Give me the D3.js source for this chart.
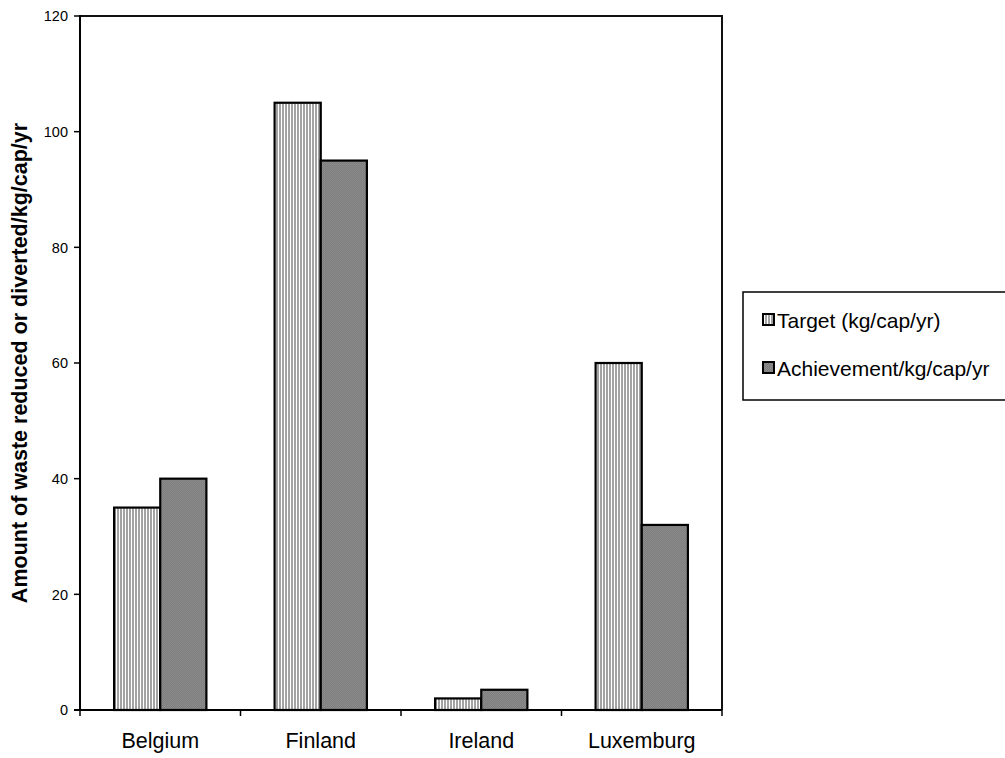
<!DOCTYPE html>
<html><head><meta charset="utf-8">
<script src="https://cdn.jsdelivr.net/npm/d3@7"></script>
<style>body{margin:0;background:#fff}svg{display:block;font-family:"Liberation Sans",Arial,sans-serif}</style>
</head><body><svg id="c" width="1005" height="758"></svg>
<script>
const categories = ["Belgium","Finland","Ireland","Luxemburg"];
const seriesNames = ["Target (kg/cap/yr)","Achievement/kg/cap/yr"];
const targetValues = [35,105,2,60];
const achievementValues = [40,95,3.5,32];
const yTicks = [0,20,40,60,80,100,120];
const yTitle = "Amount of waste reduced or diverted/kg/cap/yr";

const svg = d3.select("#c");
const L=80,R=722,T=16,B=710;
const defs = svg.append("defs");
const p1 = defs.append("pattern").attr("id","stripe").attr("patternUnits","userSpaceOnUse").attr("width",3).attr("height",4);
p1.append("rect").attr("width",3).attr("height",4).attr("fill","#fff");
p1.append("rect").attr("width",2).attr("height",4).attr("fill","#a3a3a3");
const p2 = defs.append("pattern").attr("id","dots").attr("patternUnits","userSpaceOnUse").attr("width",2).attr("height",2);
p2.append("rect").attr("width",2).attr("height",2).attr("fill","#7d7d7d");
p2.append("rect").attr("width",1).attr("height",1).attr("fill","#8e8e8e");
p2.append("rect").attr("x",1).attr("y",1).attr("width",1).attr("height",1).attr("fill","#8a8a8a");
const fills = ["url(#stripe)","url(#dots)"];

const x = d3.scaleBand().domain(categories).range([L,R]).paddingInner(0.425).paddingOuter(0.2125);
const xs = d3.scaleBand().domain([0,1]).range([0,x.bandwidth()]);
const y = d3.scaleLinear().domain([0,120]).range([B,T]);

// bars
const data = categories.map((c,i)=>({c, v:[targetValues[i],achievementValues[i]]}));
const g = svg.append("g");
data.forEach(d=>{
  d.v.forEach((v,s)=>{
    g.append("rect").attr("x",x(d.c)+xs(s)).attr("y",y(v)).attr("width",xs.bandwidth()).attr("height",y(0)-y(v))
     .attr("fill",fills[s]).attr("stroke","#000").attr("stroke-width",2.2);
  });
});

// frame
svg.append("path").attr("d",`M${L},${T}H${R}V${B}`).attr("fill","none").attr("stroke","#111").attr("stroke-width",2);
// y axis
svg.append("line").attr("x1",L).attr("x2",L).attr("y1",T-1).attr("y2",B+1).attr("stroke","#000").attr("stroke-width",2);
yTicks.forEach(t=>{
  svg.append("line").attr("x1",L-6).attr("x2",L).attr("y1",y(t)).attr("y2",y(t)).attr("stroke","#000").attr("stroke-width",1.5);
  svg.append("text").attr("x",L-12).attr("y",y(t)).attr("dy","0.36em").attr("text-anchor","end").attr("font-size",14.5).text(t);
});
// x axis
svg.append("line").attr("x1",L-6).attr("x2",R).attr("y1",B).attr("y2",B).attr("stroke","#000").attr("stroke-width",2);
d3.range(categories.length+1).forEach(i=>{
  const xx = L + i*(R-L)/categories.length;
  svg.append("line").attr("x1",xx).attr("x2",xx).attr("y1",B).attr("y2",B+6).attr("stroke","#000").attr("stroke-width",1.5);
});
categories.forEach(c=>{
  svg.append("text").attr("x",x(c)+x.bandwidth()/2).attr("y",748).attr("text-anchor","middle").attr("font-size",21.5).text(c);
});
// y title
svg.append("text").attr("transform",`translate(27,${(T+B)/2}) rotate(-90)`).attr("text-anchor","middle")
  .attr("font-size",21.5).attr("font-weight","bold").text(yTitle);

// legend
svg.append("rect").attr("x",743).attr("y",292).attr("width",280).attr("height",108).attr("fill","#fff").attr("stroke","#000").attr("stroke-width",1.5);
seriesNames.forEach((n,i)=>{
  const cy = 320 + i*48;
  svg.append("rect").attr("x",763).attr("y",cy-6).attr("width",11).attr("height",11).attr("fill",fills[i]).attr("stroke","#000").attr("stroke-width",2);
  svg.append("text").attr("x",777).attr("y",cy).attr("dy","0.36em").attr("font-size",21).text(n);
});
</script></body></html>
